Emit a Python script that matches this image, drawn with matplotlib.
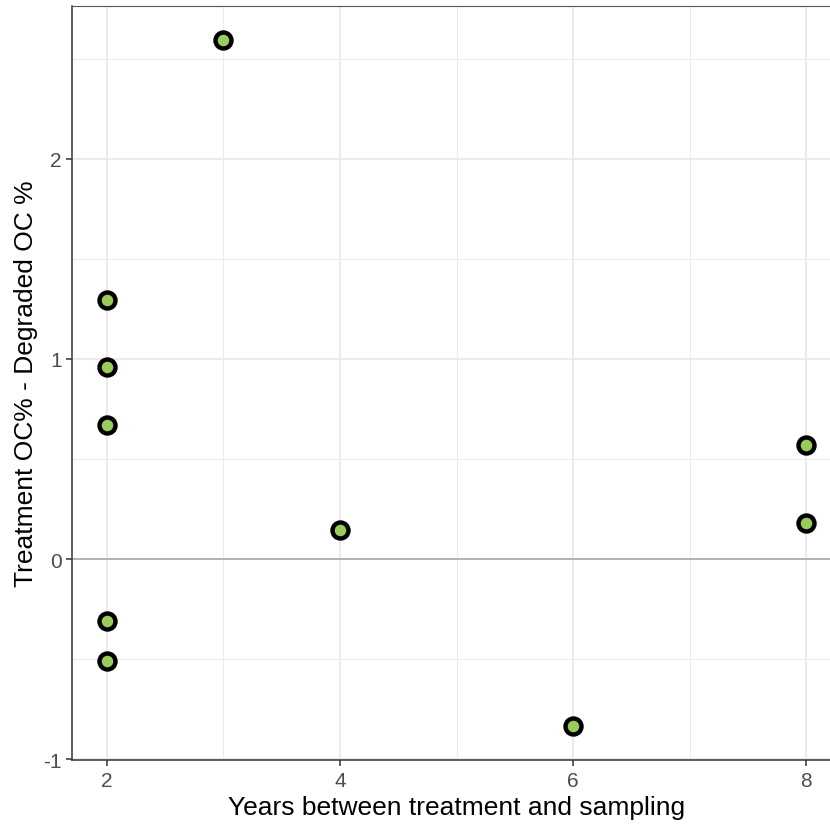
import matplotlib
matplotlib.use("Agg")
import matplotlib.pyplot as plt
from matplotlib.ticker import MultipleLocator

years = [2, 2, 2, 2, 2, 3, 4, 6, 8, 8]
oc_diff = [1.295, 0.96, 0.67, -0.31, -0.51, 2.595, 0.145, -0.835, 0.57, 0.18]

plt.rcParams['font.family'] = ['Liberation Sans', 'DejaVu Sans']

fig = plt.figure(figsize=(8.3, 8.28), dpi=100)
W, H = 830, 828
left_px, right_px, top_px, bot_px = 72.0, 841.0, 6.6, 761.4
ax = fig.add_axes([left_px / W, 1 - bot_px / H, (right_px - left_px) / W, (bot_px - top_px) / H])

ax.scatter(years, oc_diff, s=(16 * 0.72) ** 2, facecolor='#9BCB5B', edgecolor='black',
           linewidths=4.4 * 0.72, zorder=4)
ax.margins(0.05)
ax.axhline(0, color='#A9A9A9', lw=1.2, zorder=2)

ax.xaxis.set_major_locator(MultipleLocator(2))
ax.xaxis.set_minor_locator(MultipleLocator(1))
ax.yaxis.set_major_locator(MultipleLocator(1))
ax.yaxis.set_minor_locator(MultipleLocator(0.5))
ax.grid(which='major', color='#EBEBEB', lw=1.4, zorder=0)
ax.grid(which='minor', color='#EBEBEB', lw=0.7, zorder=0)
ax.set_axisbelow(True)

for s in ['top', 'right']:
    ax.spines[s].set_color('#555555')
    ax.spines[s].set_linewidth(0.8)
for s in ['left', 'bottom']:
    ax.spines[s].set_color('#333333')
    ax.spines[s].set_linewidth(1.1)

ax.tick_params(which='major', length=4.3, width=1.1, color='#333333',
               labelcolor='#4D4D4D', labelsize=15, pad=3)
ax.tick_params(which='minor', length=0)
ax.set_xticks([2, 4, 6, 8])
ax.set_yticks([-1, 0, 1, 2])
ax.set_xticklabels(['2', '4', '6', '8'])
ax.set_yticklabels(['-1', '0', '1', '2'])

ax.set_xlabel('Years between treatment and sampling', fontsize=19, color='black', labelpad=4)
ax.set_ylabel('Treatment OC% - Degraded OC %', fontsize=19, color='black', labelpad=4)

fig.savefig('out.png', dpi=100)
